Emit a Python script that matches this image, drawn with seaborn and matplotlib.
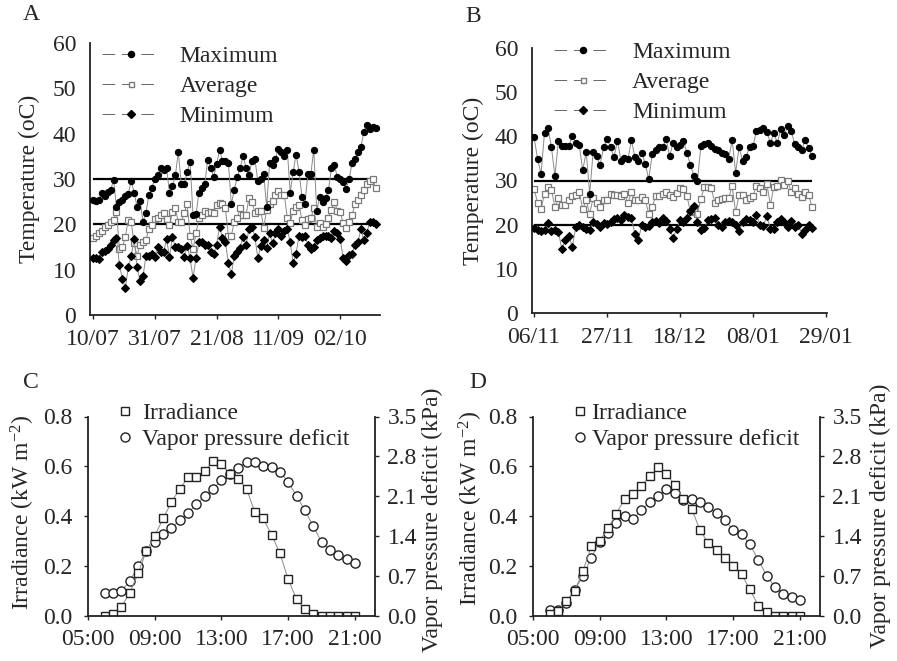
import numpy as np
import pandas as pd
import matplotlib
matplotlib.use("Agg")
import matplotlib.pyplot as plt
from matplotlib.lines import Line2D
import seaborn as sns

# ---------------- data ----------------
# Panel A (daily, starting 10/07)
a_max = [25.3, 25.2, 25.4, 27.0, 26.3, 27.2, 27.5, 29.8, 23.9,
         25.0, 25.4, 26.2, 26.8, 29.5, 27.0, 23.8, 25.2, 20.6, 22.5,
         26.5, 28.0, 30.0, 30.8, 32.5, 32.0, 32.4, 27.0, 28.5, 30.8,
         36.0, 28.8, 29.0, 31.5, 33.8, 22.0, 22.2, 27.0, 28.0, 29.0,
         34.3, 32.5, 30.5, 33.2, 36.4, 34.0, 34.0, 33.6, 24.4, 27.6,
         30.4, 32.4, 35.0, 32.5, 30.8, 34.0, 34.5, 29.5, 30.0, 31.0,
         23.9, 33.5, 33.0, 34.5, 36.6, 36.0, 35.0, 36.5, 27.0, 31.6,
         35.4, 31.6, 26.0, 24.5, 31.0, 31.0, 36.5, 23.0, 26.0, 25.0,
         25.8, 27.6, 32.4, 33.0, 30.5, 30.0, 29.3, 27.8, 30.0, 33.5,
         34.5, 36.0, 37.0, 40.3, 42.0, 41.0, 41.5, 41.3]
a_avg = [17.0, 17.5, 18.0, 18.5, 19.5, 19.8, 20.5, 21.0, 22.8, 14.5,
         15.0, 17.2, 21.0, 20.5, 15.8, 13.0, 15.5, 16.0, 16.5, 19.0,
         19.8, 21.2, 21.5, 22.0, 22.6, 21.2, 19.8, 22.8, 23.5, 20.5,
         20.5, 22.5, 24.5, 17.5, 14.5, 18.0, 21.5, 22.0, 23.0, 22.5,
         22.8, 22.5, 24.3, 24.8, 24.5, 23.5, 17.5, 17.5, 20.5, 21.5,
         23.5, 22.0, 22.0, 25.8, 25.0, 22.5, 23.0, 23.0, 19.2, 23.2,
         24.5, 25.2, 26.5, 27.3, 26.5, 26.5, 21.5, 20.3, 23.0, 23.8,
         24.2, 21.0, 19.8, 21.2, 21.3, 23.5, 19.5, 20.2, 19.5, 20.0,
         21.5, 23.2, 25.0, 23.0, 22.8, 20.2, 19.3, 20.5, 22.0, 24.5,
         25.3, 26.5, 27.5, 28.8, 29.5, 30.0, 28.0]
a_min = [12.5, 12.5, 12.3, 14.0, 14.2, 14.5, 15.5, 16.5, 17.0,
         11.0, 8.0, 6.0, 10.5, 13.0, 16.8, 10.5, 7.5, 8.5, 13.0,
         13.0, 13.5, 12.8, 15.0, 14.0, 13.8, 16.8, 12.8, 17.2,
         15.0, 15.0, 14.5, 12.8, 15.3, 12.5, 8.2, 12.5, 16.0, 16.0,
         15.5, 15.5, 14.0, 13.5, 15.5, 19.5, 17.0, 16.0, 11.5, 9.0,
         13.0, 14.0, 14.8, 17.3, 15.5, 19.0, 19.5, 17.3, 12.5, 15.2,
         16.5, 14.8, 18.0, 15.8, 18.0, 19.0, 17.5, 18.5, 19.0, 16.0,
         11.5, 13.5, 17.5, 17.3, 17.5, 15.5, 14.5, 15.0, 16.5, 17.0,
         17.5, 17.5, 17.5, 17.0, 18.5, 18.0, 16.8, 12.5, 12.0, 13.3,
         13.5, 15.5, 16.0, 19.0, 16.5, 18.0, 20.5, 20.5, 20.0]
a_ticklabels = ["10/07", "31/07", "21/08", "11/09", "02/10"]

# Panel B (daily, starting 06/11)
b_max = [39.8, 34.9, 31.5, 40.8, 42.0, 37.5, 31.0, 39.0, 37.8, 37.8,
         37.8, 40.0, 38.5, 38.0, 32.3, 36.5, 27.0, 36.5, 35.5, 33.5,
         37.5, 39.5, 37.5, 35.3, 39.0, 34.5, 35.0, 34.8, 39.2, 35.3,
         34.5, 36.2, 33.8, 30.3, 36.0, 37.0, 37.5, 37.5, 39.5, 35.5,
         38.5, 37.5, 38.0, 39.0, 36.2, 33.5, 31.0, 29.8, 37.8, 38.2,
         38.5, 37.8, 37.2, 36.8, 36.3, 36.0, 34.8, 39.2, 31.8, 37.5,
         34.5, 35.3, 37.5, 37.8, 41.2, 41.5, 41.8, 41.0, 38.5, 40.8,
         38.5, 41.6, 40.3, 42.3, 41.3, 38.2, 37.5, 36.8, 39.2, 37.3,
         35.5]
b_avg = [28.1, 25.0, 23.5, 27.0, 28.5, 27.8, 24.0, 26.0, 24.5, 24.5,
         25.5, 26.5, 26.8, 27.3, 23.5, 25.5, 22.5, 26.0, 25.0, 24.0,
         25.5, 25.5, 27.0, 26.8, 26.8, 26.5, 27.0, 24.8, 27.3, 25.5,
         25.5, 26.2, 25.5, 22.5, 24.0, 26.5, 26.5, 27.0, 27.5, 26.8,
         26.2, 27.2, 28.2, 28.0, 26.5, 22.8, 23.0, 22.5, 25.8,
         28.5, 28.5, 28.2, 25.0, 25.5, 25.8, 26.0, 26.0, 28.8, 22.8,
         26.8, 26.8, 25.5, 26.0, 26.5, 28.8, 28.3, 27.5, 29.2, 24.5,
         28.5, 28.8, 30.2, 29.0, 29.8, 27.5, 28.2, 27.0, 26.2, 27.3,
         26.8, 24.0]
b_min = [19.3, 18.8, 18.5, 18.8, 20.3, 18.5, 18.8, 18.3,
         14.5, 16.5, 17.5, 15.0, 19.5, 20.0, 19.5, 19.0, 18.8, 20.5,
         20.2, 19.5, 20.3, 20.2, 20.5, 21.3, 21.5, 21.0, 22.3, 21.8,
         21.5, 18.0, 16.5, 20.0, 19.5, 19.8, 20.5, 20.8, 20.3, 21.5,
         20.8, 19.0, 17.0, 19.0, 21.0, 20.5, 21.5, 23.0, 24.2, 20.5,
         18.8, 19.3, 21.0, 21.2, 21.5, 20.0, 19.5, 20.5, 20.8, 20.5,
         20.0, 18.5, 20.5, 21.2, 21.0, 20.5, 22.2, 20.0, 19.8,
         22.0, 19.0, 19.0, 20.5, 21.2, 20.5, 19.5, 20.8, 19.5, 20.0,
         18.0, 18.8, 20.0, 19.2]
b_ticklabels = ["06/11", "27/11", "18/12", "08/01", "29/01"]

# Panels C and D (half-hourly, 06:00 - 21:00)
c_irr = [0.0, 0.005, 0.035, 0.09, 0.17, 0.26, 0.32, 0.39, 0.455, 0.51,
         0.555, 0.555, 0.58, 0.62, 0.61, 0.57, 0.55, 0.51, 0.415, 0.39,
         0.325, 0.25, 0.145, 0.065, 0.025, 0.007, 0.0, 0.0, 0.0, 0.0, 0.0]
c_vpd = [0.39, 0.39, 0.43, 0.60, 0.87, 1.13, 1.30, 1.43, 1.54, 1.68,
         1.80, 1.96, 2.10, 2.23, 2.38, 2.48, 2.60, 2.70, 2.70, 2.63,
         2.62, 2.53, 2.35, 2.10, 1.85, 1.57, 1.29, 1.15, 1.06, 0.99, 0.93]
d_irr = [0.005, 0.02, 0.06, 0.10, 0.18, 0.28, 0.30, 0.35, 0.41, 0.47,
         0.49, 0.52, 0.56, 0.595, 0.57, 0.525, 0.47, 0.43, 0.345, 0.29,
         0.265, 0.23, 0.20, 0.165, 0.105, 0.04, 0.015, 0.0, 0.0, 0.0, 0.0]
d_vpd = [0.10, 0.10, 0.22, 0.45, 0.70, 1.02, 1.30, 1.45, 1.63, 1.75,
         1.70, 1.85, 2.00, 2.10, 2.22, 2.15, 2.03, 2.05, 2.00, 1.90,
         1.80, 1.68, 1.50, 1.43, 1.25, 0.98, 0.70, 0.50, 0.37, 0.32, 0.28]
time_ticklabels = ["05:00", "09:00", "13:00", "17:00", "21:00"]
time_ticks = [5, 9, 13, 17, 21]

# ---------------- style ----------------
sns.set_style("ticks")
plt.rcParams["font.family"] = ["Liberation Serif", "DejaVu Serif"]
plt.rcParams["mathtext.fontset"] = "custom"
plt.rcParams["mathtext.rm"] = "Liberation Serif"
plt.rcParams["mathtext.it"] = "Liberation Serif:italic"
FS = 17

fig = plt.figure(figsize=(8.97, 6.61), dpi=100)
W, H = 897.0, 661.0


def add_axes(x0, x1, ytop, ybot):
    return fig.add_axes([x0 / W, 1 - ybot / H, (x1 - x0) / W, (ybot - ytop) / H])


axA = add_axes(90, 380, 43, 315)
axB = add_axes(532, 827, 48, 313)
axC = add_axes(88, 375, 416.5, 615.5)
axD = add_axes(533, 820, 416.5, 615.5)

LINEGRAY = "#8a8a8a"


def style_axis(ax):
    for s in ["top", "right"]:
        ax.spines[s].set_visible(False)
    for s in ["left", "bottom"]:
        ax.spines[s].set_linewidth(1.3)
        ax.spines[s].set_color("#222222")
    ax.tick_params(axis="both", labelsize=FS, length=3, width=1.0,
                   color="#222222")
    ax.tick_params(axis="x", pad=7)


def temp_panel(ax, vmax, vavg, vmin, ticklabels, xlim, legend_xy):
    dfx = pd.DataFrame({"day": np.arange(len(vmax)), "max": vmax})
    dfa = pd.DataFrame({"day": np.arange(len(vavg)), "avg": vavg})
    dfm = pd.DataFrame({"day": np.arange(len(vmin)), "min": vmin})
    n = len(vmax)
    ax.hlines([20, 30], 0, n - 1, colors="black", linewidth=1.6, zorder=1)
    sns.lineplot(data=dfa, x="day", y="avg", ax=ax, color=LINEGRAY, lw=0.7,
                 marker="s", markersize=3.8, markerfacecolor="white",
                 markeredgecolor="#7a7a7a", markeredgewidth=0.9, zorder=2)
    sns.lineplot(data=dfx, x="day", y="max", ax=ax, color=LINEGRAY, lw=0.7,
                 marker="o", markersize=4.5, markerfacecolor="black",
                 markeredgecolor="black", zorder=3)
    sns.lineplot(data=dfm, x="day", y="min", ax=ax, color=LINEGRAY, lw=0.7,
                 marker="D", markersize=3.9, markerfacecolor="black",
                 markeredgecolor="black", zorder=3)
    ax.set_xlim(*xlim)
    ax.set_ylim(0, 60)
    ax.set_yticks(range(0, 61, 10))
    ax.set_xticks([0, 21, 42, 63, 84])
    ax.set_xticklabels(ticklabels)
    ax.set_xlabel("")
    ax.set_ylabel("Temperature (oC)", fontsize=FS)
    style_axis(ax)
    ax.tick_params(axis="y", length=0, pad=10)
    dash = (0, (13, 7))
    handles = [
        Line2D([], [], color="#666666", lw=0.7, ls=dash, marker="o",
               markersize=4.4, mfc="black", mec="black"),
        Line2D([], [], color="#666666", lw=0.7, ls=dash, marker="s",
               markersize=3.6, mfc="white", mec="#7a7a7a"),
        Line2D([], [], color="#666666", lw=0.7, ls=dash, marker="D",
               markersize=3.6, mfc="black", mec="black"),
    ]
    ax.legend(handles, ["Maximum", "Average", "Minimum"], loc="upper left",
              bbox_to_anchor=legend_xy, frameon=False, fontsize=FS,
              handlelength=2.45, handletextpad=0.85, labelspacing=0.36,
              borderaxespad=0, borderpad=0)


temp_panel(axA, a_max, a_avg, a_min, a_ticklabels, (-1, 97.5), (0.04, 0.99))
temp_panel(axB, b_max, b_avg, b_min, b_ticklabels, (-0.6, 84.3), (0.075, 1.025))
axA.yaxis.set_label_coords(-0.172, 0.5)
axB.yaxis.set_label_coords(-0.163, 0.5)


def sun_panel(ax, irr, vpd, legend_x, textpad):
    hours = 6 + 0.5 * np.arange(len(irr))
    df = pd.DataFrame({"hour": hours, "irr": irr, "vpd": vpd})
    ax2 = ax.twinx()
    sns.lineplot(data=df, x="hour", y="vpd", ax=ax2, color=LINEGRAY, lw=0.7,
                 marker="o", markersize=6.6, markerfacecolor="white",
                 markeredgecolor="#222222", markeredgewidth=1.0)
    sns.lineplot(data=df, x="hour", y="irr", ax=ax, color=LINEGRAY, lw=0.7,
                 marker="s", markersize=6.1, markerfacecolor="white",
                 markeredgecolor="#222222", markeredgewidth=1.0)
    ax.set_zorder(ax2.get_zorder() + 1)
    ax.patch.set_visible(False)
    ax.set_xlim(5, 22.2)
    ax.set_ylim(0, 0.8)
    ax2.set_ylim(0, 3.5)
    ax.set_yticks([0.0, 0.2, 0.4, 0.6, 0.8])
    ax.set_yticklabels(["0.0", "0.2", "0.4", "0.6", "0.8"])
    ax2.set_yticks([0.0, 0.7, 1.4, 2.1, 2.8, 3.5])
    ax2.set_yticklabels(["0.0", "0.7", "1.4", "2.1", "2.8", "3.5"])
    ax.set_xticks(time_ticks)
    ax.set_xticklabels(time_ticklabels)
    ax.set_xlabel("")
    ax.set_ylabel("Irradiance (kW m$^{-2}$)", fontsize=FS)
    ax2.set_ylabel("Vapor pressure deficit (kPa)", fontsize=FS)
    style_axis(ax)
    ax.tick_params(axis="y", pad=8)
    for s in ["top", "left", "bottom"]:
        ax2.spines[s].set_visible(False)
    ax2.spines["right"].set_linewidth(1.3)
    ax2.spines["right"].set_color("#222222")
    ax2.tick_params(axis="y", labelsize=FS, length=3, width=1.0,
                    color="#222222", pad=6)
    handles = [
        Line2D([], [], ls="none", marker="s", markersize=6, mfc="white",
               mec="#222222"),
        Line2D([], [], ls="none", marker="o", markersize=6.5, mfc="white",
               mec="#222222"),
    ]
    ax.legend(handles, ["Irradiance", "Vapor pressure deficit"],
              loc="upper left", bbox_to_anchor=(legend_x, 1.07),
              frameon=False, fontsize=FS, handlelength=0.8,
              handletextpad=textpad, labelspacing=0.18, borderaxespad=0,
              borderpad=0)
    return ax2


axC2 = sun_panel(axC, c_irr, c_vpd, 0.095, 0.32)
axD2 = sun_panel(axD, d_irr, d_vpd, 0.13, 0.1)
axC.yaxis.set_label_coords(-0.178, 0.52)
axD.yaxis.set_label_coords(-0.167, 0.54)
axC2.yaxis.set_label_coords(1.164, 0.48)
axD2.yaxis.set_label_coords(1.174, 0.5)

for letter, x, y in [("A", 23, 15), ("B", 465, 17), ("C", 23, 382), ("D", 469, 382)]:
    fig.text(x / W, 1 - y / H, letter, fontsize=FS, va="center", ha="left")

fig.savefig("out.png", dpi=100)
